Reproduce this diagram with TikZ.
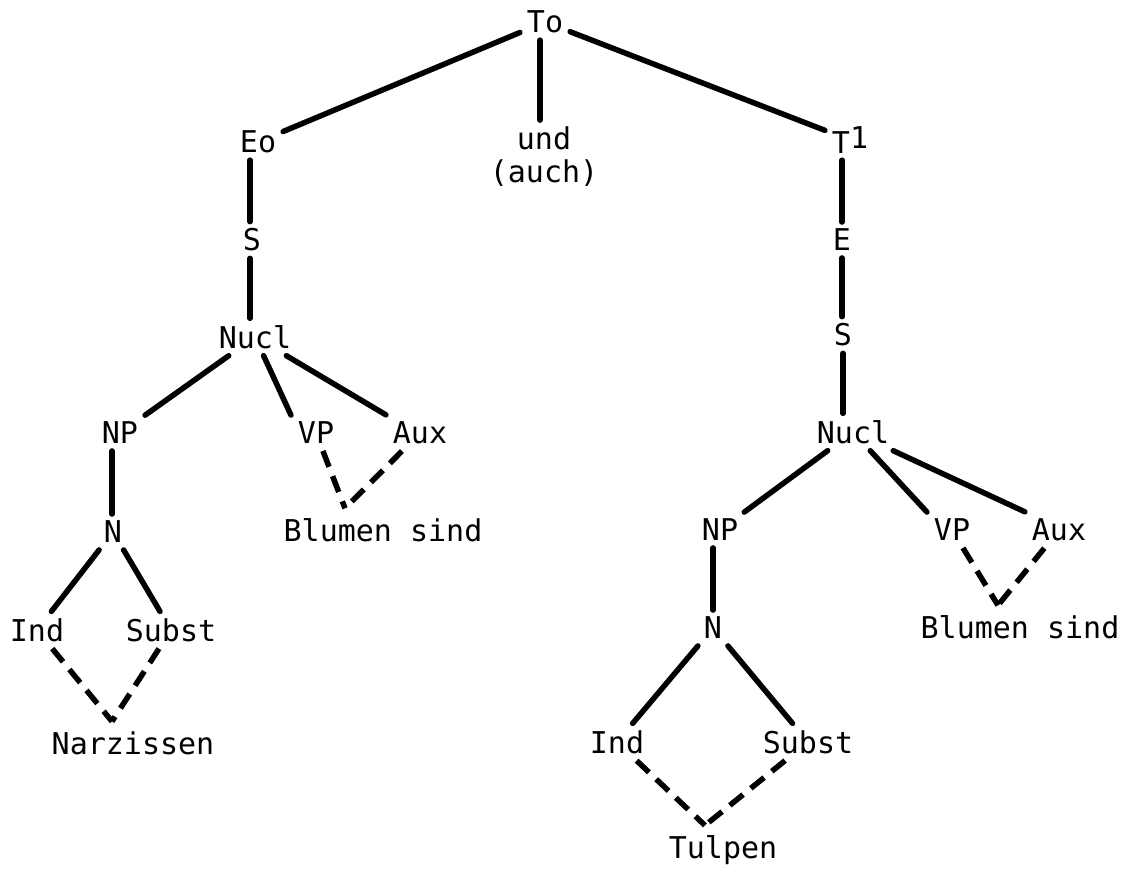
\documentclass[tikz,border=0pt]{standalone}
\usepackage{fontspec}
\setmainfont{DejaVu Sans Mono}
\begin{document}
\begin{tikzpicture}[x=1pt,y=-1pt,
  lab/.style={inner sep=7pt,outer sep=0pt,font=\fontsize{30}{33}\selectfont},
  solidln/.style={line width=5.5pt,line cap=round},
  dashln/.style={line width=5.5pt,dash pattern=on 17pt off 10pt},
]
\useasboundingbox (0,0) rectangle (1143,871);
% top
\node[lab] (To) at (545,22) {To};
\node[lab] (Eo) at (258,142) {Eo};
\node[lab,align=center] (und) at (544,157) {und\\(auch)};
\node[lab] (T1) at (850,140) {T\raisebox{0.15em}{1}};
% left branch
\node[lab] (SL) at (252,240) {S};
\node[lab] (NuclL) at (255,337) {Nucl};
\node[lab] (NPL) at (120,433) {NP};
\node[lab] (VPL) at (316,433) {VP};
\node[lab] (AuxL) at (420,433) {Aux};
\node[lab] (BlumenL) at (383,530) {Blumen sind};
\node[lab] (NL) at (113,532) {N};
\node[lab] (IndL) at (37,630) {Ind};
\node[lab] (SubstL) at (171,630) {Subst};
\node[lab] (Narz) at (133,743) {Narzissen};
% right branch
\node[lab] (ER) at (842,240) {E};
\node[lab] (SR) at (843,335) {S};
\node[lab] (NuclR) at (853,432) {Nucl};
\node[lab] (NPR) at (720,530) {NP};
\node[lab] (VPR) at (952,530) {VP};
\node[lab] (AuxR) at (1059,530) {Aux};
\node[lab] (BlumenR) at (1020,627) {Blumen sind};
\node[lab] (NR) at (713,628) {N};
\node[lab] (IndR) at (617,742) {Ind};
\node[lab] (SubstR) at (808,742) {Subst};
\node[lab] (Tulpen) at (723,850) {Tulpen};
% convergence points
\coordinate (cBL) at ([xshift=-38pt,yshift=3pt]BlumenL.north);
\coordinate (cNz) at ([xshift=-21pt,yshift=3pt]Narz.north);
\coordinate (cTu) at ([xshift=-18pt,yshift=3pt]Tulpen.north);
\coordinate (cBR) at ([xshift=-22pt,yshift=3pt]BlumenR.north);
% solid edges
\draw[solidln] (To) -- (Eo);
\draw[solidln] (To) -- (T1);
\draw[solidln] ([xshift=-5pt]To.south) -- ([xshift=-5pt]To.south |- und.north);
\draw[solidln] ([xshift=-8pt]Eo.south) -- ([xshift=-8pt]Eo.south |- SL.north);
\draw[solidln] ([xshift=-2pt]SL.south) -- ([xshift=-2pt]SL.south |- NuclL.north);
\draw[solidln] (NuclL) -- (NPL);
\draw[solidln] (NuclL) -- (VPL.north west);
\draw[solidln] (NuclL) -- (AuxL.north west);
\draw[solidln] ([xshift=-8pt]NPL.south) -- ([xshift=-8pt]NPL.south |- NL.north);
\draw[solidln] (NL) -- (IndL);
\draw[solidln] (NL) -- (SubstL);
\draw[solidln] ([xshift=-8pt]T1.south) -- ([xshift=-8pt]T1.south |- ER.north);
\draw[solidln] (ER) -- (ER.south |- SR.north);
\draw[solidln] (SR) -- (SR.south |- NuclR.north);
\draw[solidln] (NuclR) -- (NPR);
\draw[solidln] (NuclR) -- (VPR.north west);
\draw[solidln] (NuclR) -- (AuxR.north west);
\draw[solidln] ([xshift=-7pt]NPR.south) -- ([xshift=-7pt]NPR.south |- NR.north);
\draw[solidln] (NR) -- (IndR);
\draw[solidln] (NR) -- (SubstR);
% dashed edges
\draw[dashln] (VPL) -- (cBL);
\draw[dashln] (AuxL) -- (cBL);
\draw[dashln] (IndL) -- (cNz);
\draw[dashln] (SubstL) -- (cNz);
\draw[dashln] (IndR) -- (cTu);
\draw[dashln] (SubstR) -- (cTu);
\draw[dashln] (VPR) -- (cBR);
\draw[dashln] (AuxR) -- (cBR);
\end{tikzpicture}
\end{document}
